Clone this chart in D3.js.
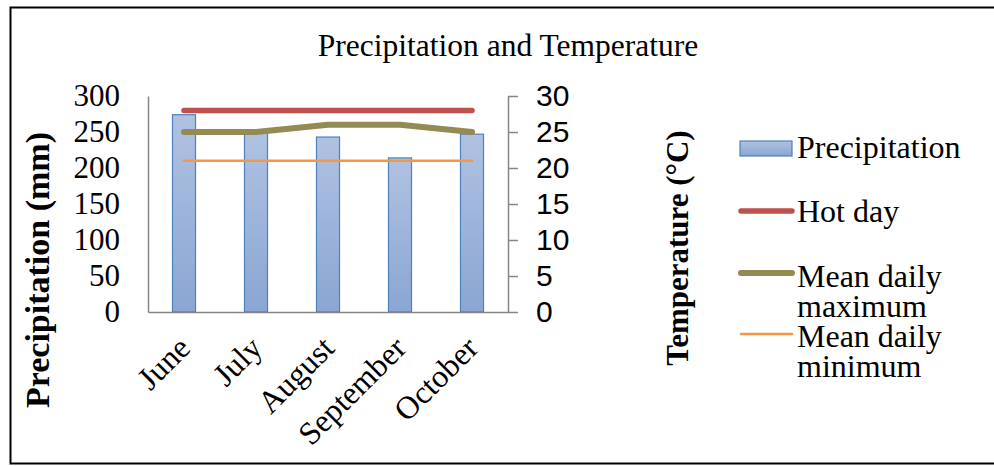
<!DOCTYPE html>
<html>
<head>
<meta charset="utf-8">
<script src="https://cdn.jsdelivr.net/npm/d3@7"></script>
<style>
  body { margin: 0; background: #fff; }
  svg { display: block; }
</style>
</head>
<body>
<svg id="chart" width="994" height="466"></svg>
<script>
const months = ["June", "July", "August", "September", "October"];
const precipitation = [274, 250, 243, 214, 247];
const hotDay = [28, 28, 28, 28, 28];
const meanMax = [25, 25, 26, 26, 25];
const meanMin = [21, 21, 21, 21, 21];
const precipTicks = [0, 50, 100, 150, 200, 250, 300];
const tempTicks = [0, 5, 10, 15, 20, 25, 30];

const serif = "'Liberation Serif', 'Times New Roman', serif";
const sans = "'Liberation Sans', Arial, sans-serif";
const axisGray = "#868686";

const svg = d3.select("#chart");

// outer frame
svg.append("rect")
    .attr("x", 10.5).attr("y", 7.5)
    .attr("width", 1000).attr("height", 456)
    .attr("fill", "#fff")
    .attr("stroke", "#000")
    .attr("stroke-width", 2);

const plot = { left: 148, right: 508, top: 96, bottom: 312 };

const x = d3.scaleBand()
    .domain(months)
    .range([plot.left, plot.right])
    .paddingInner(0.68)
    .paddingOuter(0.34);

const yP = d3.scaleLinear().domain([0, 300]).range([plot.bottom, plot.top]);
const yT = d3.scaleLinear().domain([0, 30]).range([plot.bottom, plot.top]);

// bar gradient
const grad = svg.append("defs").append("linearGradient")
    .attr("id", "barGrad")
    .attr("x1", 0).attr("y1", 0).attr("x2", 0).attr("y2", 1);
grad.append("stop").attr("offset", "0%").attr("stop-color", "#b0c2e1");
grad.append("stop").attr("offset", "100%").attr("stop-color", "#8aa6d3");

// title
svg.append("text")
    .attr("x", 508).attr("y", 56)
    .attr("text-anchor", "middle")
    .style("font-family", serif)
    .style("font-size", "31.5px")
    .text("Precipitation and Temperature");

// bars
svg.selectAll(".bar")
    .data(months)
    .enter()
    .append("rect")
    .attr("class", "bar")
    .attr("x", d => x(d))
    .attr("y", (d, i) => yP(precipitation[i]))
    .attr("width", x.bandwidth())
    .attr("height", (d, i) => plot.bottom - yP(precipitation[i]))
    .attr("fill", "url(#barGrad)")
    .attr("stroke", "#4f81bd")
    .attr("stroke-width", 1.2);

// axes
const leftAxis = svg.append("g")
    .attr("transform", `translate(${plot.left},0)`)
    .call(d3.axisLeft(yP).tickValues(precipTicks).tickSize(0).tickPadding(28));
leftAxis.select(".domain").attr("stroke", axisGray).attr("stroke-width", 1.5);
leftAxis.selectAll("text")
    .style("font-family", serif).style("font-size", "31px").attr("fill", "#000");

const rightAxis = svg.append("g")
    .attr("transform", `translate(${plot.right},0)`)
    .call(d3.axisRight(yT).tickValues(tempTicks).tickSizeInner(10).tickSizeOuter(0).tickPadding(18));
rightAxis.select(".domain").attr("stroke", axisGray).attr("stroke-width", 1.5);
rightAxis.selectAll("line").attr("stroke", axisGray).attr("stroke-width", 1.5);
rightAxis.selectAll("text")
    .style("font-family", sans).style("font-size", "30px").attr("fill", "#000");

const bottomAxis = svg.append("g")
    .attr("transform", `translate(0,${plot.bottom})`)
    .call(d3.axisBottom(x).tickSize(0).tickFormat(""));
bottomAxis.select(".domain").attr("stroke", axisGray).attr("stroke-width", 1.5);

// category labels
svg.selectAll(".cat")
    .data(months)
    .enter()
    .append("text")
    .attr("class", "cat")
    .attr("text-anchor", "end")
    .attr("transform", d => {
        const cx = x(d) + x.bandwidth() / 2 + 8;
        const cy = plot.bottom + 38;
        return `translate(${cx},${cy}) rotate(-45)`;
    })
    .style("font-family", serif)
    .style("font-size", "32px")
    .text(d => d);

// temperature lines
const line = data => d3.line()
    .x((d, i) => x(months[i]) + x.bandwidth() / 2)
    .y(d => yT(d))(data);

const series = [
    { name: "Hot day", values: hotDay, color: "#c0504d", width: 5.5 },
    { name: "Mean daily maximum", values: meanMax, color: "#948a54", width: 6 },
    { name: "Mean daily minimum", values: meanMin, color: "#f79646", width: 2.5 }
];

svg.selectAll(".tline")
    .data(series)
    .enter()
    .append("path")
    .attr("class", "tline")
    .attr("d", d => line(d.values))
    .attr("fill", "none")
    .attr("stroke", d => d.color)
    .attr("stroke-width", d => d.width)
    .attr("stroke-linecap", "round")
    .attr("stroke-linejoin", "round");

// axis titles
svg.append("text")
    .attr("transform", "translate(49,270) rotate(-90)")
    .attr("text-anchor", "middle")
    .style("font-family", serif)
    .style("font-size", "34px")
    .style("font-weight", "bold")
    .text("Precipitation (mm)");

svg.append("text")
    .attr("transform", "translate(688,248) rotate(-90)")
    .attr("text-anchor", "middle")
    .style("font-family", serif)
    .style("font-size", "31px")
    .style("font-weight", "bold")
    .text("Temperature (°C)");

// legend
const legend = svg.append("g").style("font-family", serif).style("font-size", "32px");

legend.append("rect")
    .attr("x", 740).attr("y", 141)
    .attr("width", 52).attr("height", 15)
    .attr("fill", "url(#barGrad)")
    .attr("stroke", "#4f81bd")
    .attr("stroke-width", 1.2);
legend.append("text").attr("x", 797).attr("y", 158).text("Precipitation");

const legendRows = [
    { s: series[0], ly: 211, lines: ["Hot day"], ty: 222 },
    { s: series[1], ly: 273, lines: ["Mean daily", "maximum"], ty: 287 },
    { s: series[2], ly: 334, lines: ["Mean daily", "minimum"], ty: 347 }
];

legendRows.forEach(r => {
    legend.append("line")
        .attr("x1", 741).attr("x2", 792)
        .attr("y1", r.ly).attr("y2", r.ly)
        .attr("stroke", r.s.color)
        .attr("stroke-width", r.s.width)
        .attr("stroke-linecap", "round");
    const t = legend.append("text").attr("x", 797).attr("y", r.ty);
    r.lines.forEach((l, i) => {
        t.append("tspan").attr("x", 797).attr("dy", i === 0 ? 0 : 30).text(l);
    });
});
</script>
</body>
</html>
